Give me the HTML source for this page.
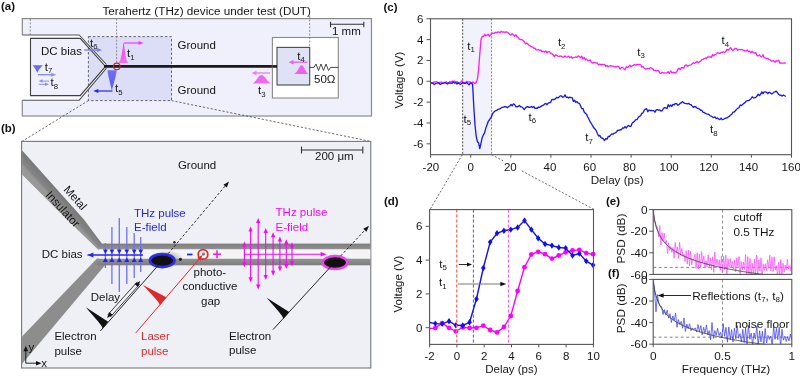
<!DOCTYPE html>
<html><head><meta charset="utf-8"><style>
html,body{margin:0;padding:0;background:#fff;width:800px;height:377px;overflow:hidden}
svg{display:block;font-family:"Liberation Sans", sans-serif;will-change:transform}
</style></head><body>
<svg width="800" height="377" viewBox="0 0 800 377">
<text x="1" y="10.3" font-size="11.5" fill="#111" text-anchor="start" font-weight="bold" >(a)</text>
<text x="102.4" y="14.6" font-size="11.7" fill="#151515" text-anchor="start" font-weight="normal" >Terahertz (THz) device under test (DUT)</text>
<rect x="22.3" y="18.6" width="349.2" height="97.4" fill="#eff0fc" stroke="#8a8a8a" stroke-width="1.2"/>
<polygon points="21.00,35.00 79.20,35.00 106.50,64.60 106.50,68.20 79.20,100.20 21.00,100.20" stroke="none" fill="#ffffff" stroke-width="1" />
<rect x="88.4" y="36.6" width="83.1" height="64" fill="#dcdef7" stroke="#666" stroke-width="1" stroke-dasharray="2.5,2"/>
<polygon points="30.50,38.40 80.20,38.40 105.50,66.40 80.20,95.60 30.50,95.60" stroke="none" fill="#eff0fc" stroke-width="1" />
<polygon points="88.40,47.40 105.50,66.40 88.40,85.60" stroke="none" fill="#dcdef7" stroke-width="1" />
<line x1="88.40" y1="47.50" x2="88.40" y2="85.50" stroke="#666" stroke-width="1" stroke-dasharray="2.5,2"/>
<polygon points="79.20,35.00 106.50,64.60 105.50,66.40 80.20,38.40" stroke="none" fill="#ffffff" stroke-width="1" />
<polygon points="79.20,100.20 106.50,68.20 105.50,66.40 80.20,95.60" stroke="none" fill="#ffffff" stroke-width="1" />
<polyline points="22.30,35.00 79.20,35.00 106.50,64.60" stroke="#555" fill="none" stroke-width="1.1" />
<polyline points="22.30,100.20 79.20,100.20 106.50,68.20" stroke="#555" fill="none" stroke-width="1.1" />
<polygon points="30.50,38.40 80.20,38.40 105.50,66.40 80.20,95.60 30.50,95.60" stroke="#3f3f3f" fill="none" stroke-width="1.1" />
<line x1="104.00" y1="66.40" x2="277.00" y2="66.40" stroke="#1a1a1a" stroke-width="2.6" />
<rect x="272.4" y="37.5" width="65.9" height="60.5" fill="#ffffff" stroke="#8a8a8a" stroke-width="1.1"/>
<rect x="277" y="47.4" width="32.7" height="37.6" fill="#dfe1f5" stroke="#4a4a4a" stroke-width="1.1"/>
<line x1="272.40" y1="66.40" x2="277.00" y2="66.40" stroke="#1a1a1a" stroke-width="2.6" />
<polyline points="309.70,67.40 314.00,67.40 316.00,64.00 318.50,70.50 321.00,64.00 323.50,70.50 326.00,64.00 328.50,70.50 330.50,67.40 338.30,67.40" stroke="#333" fill="none" stroke-width="0.9" />
<text x="314" y="82.7" font-size="11.5" fill="#151515" text-anchor="start" font-weight="normal" >50Ω</text>
<line x1="330.50" y1="24.30" x2="363.80" y2="24.30" stroke="#333" stroke-width="1.1" />
<line x1="330.50" y1="21.80" x2="330.50" y2="27.30" stroke="#333" stroke-width="1.1" />
<line x1="363.80" y1="21.80" x2="363.80" y2="27.30" stroke="#333" stroke-width="1.1" />
<text x="332" y="34.7" font-size="11.5" fill="#151515" text-anchor="start" font-weight="normal" >1 mm</text>
<line x1="30.30" y1="19.00" x2="30.30" y2="35.00" stroke="#777" stroke-width="0.8" stroke-dasharray="2,1.5"/>
<line x1="116.60" y1="18.60" x2="116.60" y2="63.00" stroke="#777" stroke-width="0.8" stroke-dasharray="2,1.5"/>
<line x1="309.70" y1="16.00" x2="309.70" y2="47.40" stroke="#777" stroke-width="0.8" stroke-dasharray="2,1.5"/>
<text x="177.5" y="49.1" font-size="11.5" fill="#151515" text-anchor="start" font-weight="normal" >Ground</text>
<text x="177.5" y="93.5" font-size="11.5" fill="#151515" text-anchor="start" font-weight="normal" >Ground</text>
<text x="41" y="55" font-size="11.5" fill="#151515" text-anchor="start" font-weight="normal" >DC bias</text>
<circle cx="116.8" cy="66.4" r="3.2" fill="none" stroke="#d42020" stroke-width="1.2"/>
<defs><linearGradient id="gm" x1="0" y1="0" x2="0" y2="1"><stop offset="0" stop-color="#f040f0"/><stop offset="1" stop-color="#f070f0"/></linearGradient><linearGradient id="gb" x1="0" y1="0" x2="0" y2="1"><stop offset="0" stop-color="#7070f4"/><stop offset="1" stop-color="#5a5af0"/></linearGradient></defs>
<path d="M118.3,63 C121,61.5 122.5,50 123.4,43 L123.9,43 C124.8,50 125.6,61.5 128.4,63 Z" fill="url(#gm)"/>
<line x1="124.00" y1="43.00" x2="139.50" y2="43.00" stroke="#ff33ff" stroke-width="1.2" />
<polygon points="143.50,43.00 138.50,45.00 138.50,41.00" stroke="none" fill="#ff33ff" stroke-width="1" />
<text x="127" y="57" font-size="11.5" fill="#151515" text-anchor="start">t<tspan font-size="7.82" dy="2.6">1</tspan></text>
<path d="M107.4,70.2 L116.7,70.2 C116,77 113,85 112.1,90 L111.7,90 C110.8,85 108.2,77 107.4,70.2 Z" fill="url(#gb)"/>
<line x1="112.50" y1="91.00" x2="97.30" y2="91.00" stroke="#2222ee" stroke-width="1.2" />
<polygon points="93.30,91.00 98.30,89.00 98.30,93.00" stroke="none" fill="#2222ee" stroke-width="1" />
<text x="115" y="92" font-size="11.5" fill="#151515" text-anchor="start">t<tspan font-size="7.82" dy="2.6">5</tspan></text>
<line x1="84.00" y1="50.00" x2="98.00" y2="50.00" stroke="#7b7bf7" stroke-width="1.3" />
<polygon points="102.00,50.00 97.00,52.00 97.00,48.00" stroke="none" fill="#7b7bf7" stroke-width="1" />
<text x="90" y="46.5" font-size="11.5" fill="#151515" text-anchor="start">t<tspan font-size="7.82" dy="2.6">6</tspan></text>
<path d="M32.7,65.2 L42.7,65.2 C40.5,67.5 38.5,70 37.3,72.7 C36,70 34.5,67.5 32.7,65.2 Z" fill="#6a6af5"/>
<line x1="37.90" y1="74.70" x2="52.20" y2="74.70" stroke="#8c8cf7" stroke-width="1.4" />
<polygon points="56.20,74.70 51.20,76.70 51.20,72.70" stroke="none" fill="#8c8cf7" stroke-width="1" />
<text x="44.7" y="70.7" font-size="11.5" fill="#151515" text-anchor="start">t<tspan font-size="7.82" dy="2.6">7</tspan></text>
<line x1="49.00" y1="81.10" x2="41.90" y2="81.10" stroke="#8c8cf7" stroke-width="1.0" />
<polygon points="38.70,81.10 42.70,79.35 42.70,82.85" stroke="none" fill="#8c8cf7" stroke-width="1" />
<line x1="38.70" y1="84.30" x2="45.80" y2="84.30" stroke="#8c8cf7" stroke-width="1.0" />
<polygon points="49.00,84.30 45.00,86.05 45.00,82.55" stroke="none" fill="#8c8cf7" stroke-width="1" />
<text x="50.6" y="86.3" font-size="11.5" fill="#151515" text-anchor="start">t<tspan font-size="7.82" dy="2.6">8</tspan></text>
<line x1="307.60" y1="62.20" x2="292.50" y2="62.20" stroke="#f060f0" stroke-width="1.3" />
<polygon points="288.50,62.20 293.50,59.95 293.50,64.45" stroke="none" fill="#f060f0" stroke-width="1" />
<path d="M294,73.9 C297.5,73.3 299.3,65.3 301.6,65.3 C304,65.3 305.5,73.3 308.6,73.9 Z" fill="#f060f0"/>
<text x="297.3" y="59.8" font-size="11.5" fill="#151515" text-anchor="start">t<tspan font-size="7.82" dy="2.6">4</tspan></text>
<line x1="270.00" y1="73.00" x2="255.50" y2="73.00" stroke="#f078f0" stroke-width="1.3" />
<polygon points="251.50,73.00 256.50,70.75 256.50,75.25" stroke="none" fill="#f078f0" stroke-width="1" />
<path d="M252,83.5 C256,83 258,75 261.5,75 C265,75 267.5,83 271.5,83.5 Z" fill="#f068f0"/>
<text x="258" y="94" font-size="11.5" fill="#151515" text-anchor="start">t<tspan font-size="7.82" dy="2.6">3</tspan></text>
<line x1="88.40" y1="100.60" x2="22.00" y2="141.40" stroke="#444" stroke-width="0.8" stroke-dasharray="2.2,1.8"/>
<line x1="171.50" y1="100.60" x2="370.80" y2="141.40" stroke="#444" stroke-width="0.8" stroke-dasharray="2.2,1.8"/>
<text x="1" y="132" font-size="11.5" fill="#111" text-anchor="start" font-weight="bold" >(b)</text>
<rect x="21.6" y="141.4" width="349.2" height="226.6" fill="#eef0f6" stroke="#777" stroke-width="1.1"/>
<clipPath id="cb"><rect x="22.1" y="141.9" width="348.2" height="225.6"/></clipPath>
<g clip-path="url(#cb)">
<defs><linearGradient id="sg1" gradientUnits="userSpaceOnUse" x1="40" y1="150" x2="28" y2="163"><stop offset="0" stop-color="#7a7a7a"/><stop offset="1" stop-color="#9a9a9a"/></linearGradient><linearGradient id="sg2" gradientUnits="userSpaceOnUse" x1="0" y1="243.6" x2="0" y2="249.5"><stop offset="0" stop-color="#7c7c7c"/><stop offset="1" stop-color="#959595"/></linearGradient><linearGradient id="sg3" gradientUnits="userSpaceOnUse" x1="0" y1="258.5" x2="0" y2="265.3"><stop offset="0" stop-color="#959595"/><stop offset="1" stop-color="#7c7c7c"/></linearGradient></defs>
<defs><linearGradient id="sgd" gradientUnits="userSpaceOnUse" x1="50" y1="181.6" x2="38" y2="192.6"><stop offset="0" stop-color="#787878"/><stop offset="0.45" stop-color="#848484"/><stop offset="0.6" stop-color="#979797"/><stop offset="1" stop-color="#9a9a9a"/></linearGradient></defs>
<polygon points="21.60,149.80 83.70,219.30 101.80,243.60 98.00,249.50 66.70,219.30 21.60,174.00" stroke="none" fill="url(#sgd)" stroke-width="1" />
<rect x="98" y="243.6" width="273" height="5.9" fill="url(#sg2)"/>
<polygon points="97.00,258.50 105.00,265.30 21.60,364.50 21.60,337.00" stroke="none" fill="#8d8d8d" stroke-width="1" />
<rect x="97" y="258.5" width="274" height="6.8" fill="url(#sg3)"/>
<rect x="99" y="249.5" width="272" height="9" fill="#f5f5f8"/>
</g>
<text x="177.9" y="169" font-size="11.5" fill="#151515" text-anchor="start" font-weight="normal" >Ground</text>
<text x="315" y="160.3" font-size="11.5" fill="#151515" text-anchor="start" font-weight="normal" >200 μm</text>
<line x1="301.50" y1="150.00" x2="362.80" y2="150.00" stroke="#333" stroke-width="1.1" />
<line x1="301.50" y1="146.50" x2="301.50" y2="153.50" stroke="#333" stroke-width="1.1" />
<line x1="362.80" y1="146.50" x2="362.80" y2="153.50" stroke="#333" stroke-width="1.1" />
<text font-size="11.5" fill="#151515" transform="translate(63,190) rotate(48)">Metal</text>
<text font-size="11.5" fill="#151515" transform="translate(45,195.5) rotate(47.5)">Insulator</text>
<text x="41.7" y="258" font-size="11.5" fill="#151515" text-anchor="start" font-weight="normal" >DC bias</text>
<text x="134" y="216.5" font-size="11.5" fill="#2424f5" text-anchor="start" font-weight="normal" >THz pulse</text>
<text x="134" y="230.7" font-size="11.5" fill="#2424f5" text-anchor="start" font-weight="normal" >E-field</text>
<line x1="105.40" y1="243.00" x2="105.40" y2="268.00" stroke="#6f6ff7" stroke-width="1.3" />
<polygon points="102.90,249.50 107.90,249.50 105.40,254.00" stroke="none" fill="#2424f5" stroke-width="1" />
<polygon points="102.90,262.00 107.90,262.00 105.40,257.50" stroke="none" fill="#2424f5" stroke-width="1" />
<line x1="111.90" y1="227.00" x2="111.90" y2="284.00" stroke="#6f6ff7" stroke-width="1.3" />
<polygon points="109.40,249.50 114.40,249.50 111.90,254.00" stroke="none" fill="#2424f5" stroke-width="1" />
<polygon points="109.40,262.00 114.40,262.00 111.90,257.50" stroke="none" fill="#2424f5" stroke-width="1" />
<line x1="119.30" y1="218.00" x2="119.30" y2="292.00" stroke="#6f6ff7" stroke-width="1.3" />
<polygon points="116.80,249.50 121.80,249.50 119.30,254.00" stroke="none" fill="#2424f5" stroke-width="1" />
<polygon points="116.80,262.00 121.80,262.00 119.30,257.50" stroke="none" fill="#2424f5" stroke-width="1" />
<line x1="126.80" y1="227.00" x2="126.80" y2="284.00" stroke="#6f6ff7" stroke-width="1.3" />
<polygon points="124.30,249.50 129.30,249.50 126.80,254.00" stroke="none" fill="#2424f5" stroke-width="1" />
<polygon points="124.30,262.00 129.30,262.00 126.80,257.50" stroke="none" fill="#2424f5" stroke-width="1" />
<line x1="134.20" y1="233.00" x2="134.20" y2="278.00" stroke="#6f6ff7" stroke-width="1.3" />
<polygon points="131.70,249.50 136.70,249.50 134.20,254.00" stroke="none" fill="#2424f5" stroke-width="1" />
<polygon points="131.70,262.00 136.70,262.00 134.20,257.50" stroke="none" fill="#2424f5" stroke-width="1" />
<line x1="140.70" y1="237.00" x2="140.70" y2="272.00" stroke="#6f6ff7" stroke-width="1.3" />
<polygon points="138.20,249.50 143.20,249.50 140.70,254.00" stroke="none" fill="#2424f5" stroke-width="1" />
<polygon points="138.20,262.00 143.20,262.00 140.70,257.50" stroke="none" fill="#2424f5" stroke-width="1" />
<line x1="143.00" y1="255.00" x2="92.20" y2="255.00" stroke="#2424f5" stroke-width="1.2" />
<polygon points="87.40,255.00 93.40,252.50 93.40,257.50" stroke="none" fill="#2424f5" stroke-width="1" />
<line x1="87.40" y1="255.00" x2="143.00" y2="255.00" stroke="#2424f5" stroke-width="1.2" />
<defs><radialGradient id="halo"><stop offset="0" stop-color="#555" stop-opacity="0.8"/><stop offset="1" stop-color="#888" stop-opacity="0"/></radialGradient></defs>
<ellipse cx="166" cy="259" rx="18" ry="9" fill="url(#halo)"/>
<ellipse cx="337" cy="262" rx="16" ry="8" fill="url(#halo)"/>
<ellipse cx="162.2" cy="260.6" rx="11.5" ry="5.8" fill="#111"/>
<ellipse cx="162.2" cy="260.6" rx="12.3" ry="6.5" fill="none" stroke="#2d2df0" stroke-width="2.6"/>
<ellipse cx="335" cy="262.6" rx="11.5" ry="5.8" fill="#111"/>
<ellipse cx="335" cy="262.6" rx="12.3" ry="6.5" fill="none" stroke="#f040f0" stroke-width="2.5"/>
<circle cx="180.4" cy="259.3" r="1.6" fill="#222"/>
<circle cx="174.4" cy="242.3" r="1.3" fill="#333"/>
<line x1="100.40" y1="331.00" x2="162.50" y2="260.50" stroke="#111" stroke-width="0.9" />
<line x1="162.50" y1="260.50" x2="226.00" y2="185.00" stroke="#111" stroke-width="0.9" stroke-dasharray="2.5,2"/>
<polygon points="229.00,181.50 226.86,187.54 223.41,184.64" stroke="none" fill="#111" stroke-width="1" />
<line x1="273.00" y1="329.60" x2="334.50" y2="262.50" stroke="#111" stroke-width="0.9" />
<line x1="334.50" y1="262.50" x2="366.00" y2="229.00" stroke="#111" stroke-width="0.9" stroke-dasharray="2.5,2"/>
<polygon points="369.00,225.80 366.53,231.71 363.25,228.63" stroke="none" fill="#111" stroke-width="1" />
<path d="M85.8,307.2 L108.2,321.8 L102.8,328.4 C101.5,324.5 97.5,321 85.8,307.2 Z" fill="#111"/>
<path d="M266.7,297.7 L289.2,312 L283.6,318.8 C282.3,315 278.5,311.5 266.7,297.7 Z" fill="#111"/>
<line x1="107.80" y1="314.80" x2="137.30" y2="281.80" stroke="#111" stroke-width="0.8" />
<line x1="110.20" y1="317.20" x2="139.70" y2="284.20" stroke="#111" stroke-width="0.8" />
<polygon points="140.30,281.00 137.96,286.96 134.61,283.95" stroke="none" fill="#111" stroke-width="1" />
<polygon points="107.00,318.00 109.34,312.04 112.69,315.05" stroke="none" fill="#111" stroke-width="1" />
<text x="90.7" y="301" font-size="11.5" fill="#151515" text-anchor="start" font-weight="normal" >Delay</text>
<text x="54.4" y="339.8" font-size="11.5" fill="#151515" text-anchor="start" font-weight="normal" >Electron</text>
<text x="54.4" y="354.5" font-size="11.5" fill="#151515" text-anchor="start" font-weight="normal" >pulse</text>
<text x="229" y="339.7" font-size="11.5" fill="#151515" text-anchor="start" font-weight="normal" >Electron</text>
<text x="229" y="353.5" font-size="11.5" fill="#151515" text-anchor="start" font-weight="normal" >pulse</text>
<line x1="135.70" y1="333.00" x2="199.50" y2="258.50" stroke="#dd2a2a" stroke-width="1.0" />
<polygon points="202.50,255.00 200.63,260.64 197.21,257.71" stroke="none" fill="#dd2a2a" stroke-width="1" />
<path d="M143,285.1 L166.3,297.3 L160,305.2 C158.7,301.5 155,298.5 143,285.1 Z" fill="#dd2a2a"/>
<text x="141" y="339.6" font-size="11.5" fill="#dd2a2a" text-anchor="start" font-weight="normal" >Laser</text>
<text x="141" y="354.5" font-size="11.5" fill="#dd2a2a" text-anchor="start" font-weight="normal" >pulse</text>
<circle cx="203" cy="254.4" r="4.8" fill="none" stroke="#e03030" stroke-width="1.8"/>
<circle cx="203.5" cy="254" r="1.6" fill="#777"/>
<line x1="187.00" y1="254.50" x2="192.50" y2="254.50" stroke="#2424f5" stroke-width="1.8" />
<line x1="213.00" y1="254.20" x2="221.00" y2="254.20" stroke="#f020f0" stroke-width="1.6" />
<line x1="217.00" y1="250.20" x2="217.00" y2="258.20" stroke="#f020f0" stroke-width="1.6" />
<text x="193.5" y="276" font-size="11.5" fill="#151515" text-anchor="start" font-weight="normal" >photo-</text>
<text x="182.4" y="289.5" font-size="11.5" fill="#151515" text-anchor="start" font-weight="normal" >conductive</text>
<text x="201" y="304.6" font-size="11.5" fill="#151515" text-anchor="start" font-weight="normal" >gap</text>
<text x="275.6" y="216.2" font-size="11.5" fill="#ff00ff" text-anchor="start" font-weight="normal" >THz pulse</text>
<text x="275.6" y="231.2" font-size="11.5" fill="#ff00ff" text-anchor="start" font-weight="normal" >E-field</text>
<line x1="244.40" y1="245.40" x2="244.40" y2="263.30" stroke="#ff00ff" stroke-width="1.1" />
<polygon points="244.40,241.40 246.50,246.40 242.30,246.40" stroke="none" fill="#ff00ff" stroke-width="1" />
<polygon points="244.40,267.30 242.30,262.30 246.50,262.30" stroke="none" fill="#ff00ff" stroke-width="1" />
<line x1="250.60" y1="230.60" x2="250.60" y2="278.20" stroke="#ff00ff" stroke-width="1.1" />
<polygon points="250.60,226.60 252.70,231.60 248.50,231.60" stroke="none" fill="#ff00ff" stroke-width="1" />
<polygon points="250.60,282.20 248.50,277.20 252.70,277.20" stroke="none" fill="#ff00ff" stroke-width="1" />
<line x1="258.20" y1="222.00" x2="258.20" y2="285.60" stroke="#ff00ff" stroke-width="1.1" />
<polygon points="258.20,218.00 260.30,223.00 256.10,223.00" stroke="none" fill="#ff00ff" stroke-width="1" />
<polygon points="258.20,289.60 256.10,284.60 260.30,284.60" stroke="none" fill="#ff00ff" stroke-width="1" />
<line x1="265.70" y1="232.00" x2="265.70" y2="276.00" stroke="#ff00ff" stroke-width="1.1" />
<polygon points="265.70,228.00 267.80,233.00 263.60,233.00" stroke="none" fill="#ff00ff" stroke-width="1" />
<polygon points="265.70,280.00 263.60,275.00 267.80,275.00" stroke="none" fill="#ff00ff" stroke-width="1" />
<line x1="273.10" y1="236.30" x2="273.10" y2="271.80" stroke="#ff00ff" stroke-width="1.1" />
<polygon points="273.10,232.30 275.20,237.30 271.00,237.30" stroke="none" fill="#ff00ff" stroke-width="1" />
<polygon points="273.10,275.80 271.00,270.80 275.20,270.80" stroke="none" fill="#ff00ff" stroke-width="1" />
<line x1="279.90" y1="240.50" x2="279.90" y2="267.60" stroke="#ff00ff" stroke-width="1.1" />
<polygon points="279.90,236.50 282.00,241.50 277.80,241.50" stroke="none" fill="#ff00ff" stroke-width="1" />
<polygon points="279.90,271.60 277.80,266.60 282.00,266.60" stroke="none" fill="#ff00ff" stroke-width="1" />
<line x1="286.30" y1="243.30" x2="286.30" y2="265.00" stroke="#ff00ff" stroke-width="1.1" />
<polygon points="286.30,239.30 288.40,244.30 284.20,244.30" stroke="none" fill="#ff00ff" stroke-width="1" />
<polygon points="286.30,269.00 284.20,264.00 288.40,264.00" stroke="none" fill="#ff00ff" stroke-width="1" />
<line x1="292.00" y1="246.30" x2="292.00" y2="262.30" stroke="#ff00ff" stroke-width="1.1" />
<polygon points="292.00,242.30 294.10,247.30 289.90,247.30" stroke="none" fill="#ff00ff" stroke-width="1" />
<polygon points="292.00,266.30 289.90,261.30 294.10,261.30" stroke="none" fill="#ff00ff" stroke-width="1" />
<line x1="244.00" y1="254.20" x2="321.80" y2="254.20" stroke="#ff00ff" stroke-width="1.1" />
<polygon points="326.60,254.20 320.60,256.45 320.60,251.95" stroke="none" fill="#ff00ff" stroke-width="1" />
<line x1="25.80" y1="363.20" x2="25.80" y2="350.00" stroke="#111" stroke-width="0.9" />
<polygon points="25.80,345.80 28.05,351.30 23.55,351.30" stroke="none" fill="#111" stroke-width="1" />
<line x1="25.80" y1="363.20" x2="37.00" y2="363.20" stroke="#111" stroke-width="0.9" />
<polygon points="41.50,363.20 36.00,365.45 36.00,360.95" stroke="none" fill="#111" stroke-width="1" />
<text x="28.5" y="350.8" font-size="11.5" fill="#151515" text-anchor="start" font-weight="normal" >y</text>
<text x="41.3" y="366.8" font-size="11.5" fill="#151515" text-anchor="start" font-weight="normal" >x</text>
<text x="383.5" y="11.3" font-size="11.5" fill="#111" text-anchor="start" font-weight="bold" >(c)</text>
<rect x="462.68" y="18.8" width="28.87" height="135.89999999999998" fill="#f1f2fc"/>
<line x1="462.68" y1="18.80" x2="462.68" y2="154.70" stroke="#222" stroke-width="0.8" stroke-dasharray="2,1.5"/>
<line x1="491.55" y1="18.80" x2="491.55" y2="154.70" stroke="#666" stroke-width="0.8" stroke-dasharray="2,1.5"/>
<polyline points="430.60,82.50 431.80,82.74 433.00,82.29 434.20,81.80 435.40,82.15 436.60,81.72 437.80,82.57 439.00,83.59 440.20,82.13 441.40,82.03 442.60,82.92 443.80,82.82 445.00,82.62 446.20,81.80 447.40,82.52 448.60,83.10 449.80,81.47 451.00,82.19 452.20,81.03 453.40,81.53 454.60,81.09 455.80,82.38 457.00,81.55 458.20,82.79 459.40,82.70 460.60,82.43 461.80,80.57 463.00,82.15 464.20,82.55 465.40,82.68 466.60,81.37 467.80,82.21 469.00,81.81 470.20,81.96 471.40,83.49 472.60,82.03 473.80,82.69 475.00,83.45 476.20,82.32 477.40,79.31 478.60,69.63 479.80,54.05 481.00,39.42 482.20,36.41 483.40,36.71 484.60,34.16 485.80,35.89 487.00,35.10 488.20,34.29 489.40,36.20 490.60,34.87 491.80,32.82 493.00,33.36 494.20,33.28 495.40,32.27 496.60,32.73 497.80,31.89 499.00,32.23 500.20,32.69 501.40,31.22 502.60,32.15 503.80,31.84 505.00,32.54 506.20,31.71 507.40,32.42 508.60,33.10 509.80,34.49 511.00,35.20 512.20,33.74 513.40,34.68 514.60,36.35 515.80,34.81 517.00,36.63 518.20,37.52 519.40,39.21 520.60,39.50 521.80,39.57 523.00,40.43 524.20,41.41 525.40,43.72 526.60,43.04 527.80,44.03 529.00,45.44 530.20,45.95 531.40,46.78 532.60,46.93 533.80,48.22 535.00,48.24 536.20,49.88 537.40,49.83 538.60,49.65 539.80,50.56 541.00,50.13 542.20,51.66 543.40,51.23 544.60,52.12 545.80,51.03 547.00,52.76 548.20,51.54 549.40,51.68 550.60,53.48 551.80,53.42 553.00,54.69 554.20,56.77 555.40,54.72 556.60,55.30 557.80,56.10 559.00,56.46 560.20,56.06 561.40,56.17 562.60,57.03 563.80,57.02 565.00,55.91 566.20,56.80 567.40,57.03 568.60,56.29 569.80,57.47 571.00,56.71 572.20,58.18 573.40,57.55 574.60,57.47 575.80,56.93 577.00,57.31 578.20,55.80 579.40,56.49 580.60,57.73 581.80,56.19 583.00,59.02 584.20,57.40 585.40,59.85 586.60,59.02 587.80,60.78 589.00,60.71 590.20,59.83 591.40,62.51 592.60,63.11 593.80,62.36 595.00,62.65 596.20,63.19 597.40,62.99 598.60,65.10 599.80,64.20 601.00,64.77 602.20,64.36 603.40,64.67 604.60,64.33 605.80,66.54 607.00,65.59 608.20,66.67 609.40,66.09 610.60,65.70 611.80,66.18 613.00,66.17 614.20,66.81 615.40,66.68 616.60,66.95 617.80,66.28 619.00,66.94 620.20,69.11 621.40,67.46 622.60,67.35 623.80,68.67 625.00,69.73 626.20,66.96 627.40,67.47 628.60,66.65 629.80,65.27 631.00,66.79 632.20,65.70 633.40,65.38 634.60,64.49 635.80,65.23 637.00,64.21 638.20,64.82 639.40,64.45 640.60,64.76 641.80,67.20 643.00,66.59 644.20,68.19 645.40,68.89 646.60,68.84 647.80,68.38 649.00,68.88 650.20,67.73 651.40,68.02 652.60,68.75 653.80,70.26 655.00,70.45 656.20,70.80 657.40,70.63 658.60,70.56 659.80,73.01 661.00,73.24 662.20,72.29 663.40,72.78 664.60,72.91 665.80,72.90 667.00,72.91 668.20,71.75 669.40,73.27 670.60,71.00 671.80,72.63 673.00,72.27 674.20,72.52 675.40,72.90 676.60,71.97 677.80,69.26 679.00,68.22 680.20,69.62 681.40,67.54 682.60,67.76 683.80,68.02 685.00,65.61 686.20,64.82 687.40,66.29 688.60,65.70 689.80,65.05 691.00,64.86 692.20,63.72 693.40,62.77 694.60,63.43 695.80,62.37 697.00,61.41 698.20,62.71 699.40,61.70 700.60,61.47 701.80,59.74 703.00,59.40 704.20,58.53 705.40,58.01 706.60,58.27 707.80,56.88 709.00,57.19 710.20,56.66 711.40,57.58 712.60,54.41 713.80,55.81 715.00,54.60 716.20,54.23 717.40,52.65 718.60,53.02 719.80,53.55 721.00,52.48 722.20,52.32 723.40,51.72 724.60,52.58 725.80,51.34 727.00,49.30 728.20,50.21 729.40,48.89 730.60,47.57 731.80,49.45 733.00,50.64 734.20,49.31 735.40,48.31 736.60,48.55 737.80,50.27 739.00,49.55 740.20,49.53 741.40,49.51 742.60,49.69 743.80,50.63 745.00,50.75 746.20,50.81 747.40,50.13 748.60,51.71 749.80,51.08 751.00,52.83 752.20,51.26 753.40,52.56 754.60,53.18 755.80,52.64 757.00,55.60 758.20,55.90 759.40,54.88 760.60,56.39 761.80,56.59 763.00,54.75 764.20,57.64 765.40,57.98 766.60,58.68 767.80,58.35 769.00,59.58 770.20,59.89 771.40,61.22 772.60,60.78 773.80,60.74 775.00,62.21 776.20,60.78 777.40,61.15 778.60,60.24 779.80,63.19 781.00,62.94 782.20,63.14 783.40,63.18 784.60,62.97 785.80,63.29" stroke="#ff1aff" fill="none" stroke-width="1.3" stroke-linejoin="round"/>
<polyline points="430.60,83.10 431.80,83.14 433.00,83.34 434.20,84.51 435.40,83.74 436.60,83.25 437.80,82.84 439.00,82.79 440.20,84.58 441.40,83.71 442.60,83.35 443.80,83.02 445.00,82.41 446.20,83.25 447.40,84.00 448.60,82.99 449.80,83.12 451.00,83.12 452.20,83.39 453.40,82.03 454.60,83.11 455.80,82.62 457.00,84.01 458.20,82.68 459.40,83.76 460.60,84.52 461.80,83.05 463.00,82.82 464.20,83.45 465.40,83.30 466.60,82.51 467.80,83.67 469.00,84.91 470.20,83.09 471.40,83.14 472.60,84.16 473.80,106.68 475.00,125.00 476.20,136.08 477.40,141.72 478.60,142.84 479.80,148.67 481.00,143.22 482.20,137.69 483.40,134.84 484.60,132.88 485.80,128.12 487.00,124.93 488.20,121.45 489.40,119.77 490.60,118.12 491.80,115.89 493.00,113.05 494.20,111.80 495.40,110.76 496.60,110.45 497.80,109.47 499.00,109.23 500.20,108.72 501.40,107.67 502.60,107.30 503.80,106.95 505.00,106.55 506.20,106.85 507.40,107.78 508.60,106.59 509.80,105.99 511.00,104.43 512.20,105.92 513.40,103.88 514.60,104.49 515.80,106.59 517.00,106.76 518.20,106.37 519.40,105.41 520.60,106.78 521.80,106.82 523.00,108.16 524.20,109.57 525.40,107.86 526.60,106.99 527.80,106.60 529.00,107.42 530.20,107.26 531.40,106.48 532.60,107.49 533.80,106.48 535.00,108.29 536.20,108.25 537.40,108.27 538.60,107.02 539.80,107.34 541.00,106.35 542.20,105.67 543.40,105.23 544.60,103.99 545.80,103.40 547.00,104.71 548.20,103.18 549.40,102.71 550.60,102.55 551.80,99.56 553.00,99.52 554.20,99.50 555.40,98.87 556.60,97.46 557.80,97.90 559.00,97.12 560.20,95.86 561.40,95.96 562.60,97.22 563.80,96.82 565.00,94.81 566.20,97.28 567.40,97.07 568.60,98.06 569.80,97.07 571.00,97.53 572.20,97.60 573.40,101.44 574.60,100.17 575.80,102.49 577.00,101.60 578.20,103.16 579.40,103.28 580.60,105.96 581.80,108.71 583.00,108.57 584.20,112.08 585.40,113.24 586.60,114.38 587.80,117.06 589.00,119.34 590.20,121.91 591.40,123.76 592.60,125.59 593.80,127.82 595.00,129.05 596.20,130.65 597.40,133.45 598.60,136.00 599.80,135.35 601.00,137.59 602.20,138.08 603.40,138.83 604.60,140.51 605.80,138.50 607.00,139.21 608.20,136.49 609.40,136.51 610.60,135.12 611.80,133.94 613.00,134.32 614.20,133.03 615.40,132.94 616.60,131.73 617.80,130.21 619.00,130.30 620.20,129.73 621.40,129.77 622.60,127.91 623.80,128.24 625.00,126.53 626.20,128.07 627.40,126.32 628.60,125.38 629.80,126.41 631.00,126.28 632.20,122.98 633.40,122.13 634.60,121.21 635.80,119.70 637.00,119.70 638.20,117.55 639.40,116.25 640.60,115.83 641.80,113.30 643.00,112.78 644.20,110.20 645.40,109.06 646.60,108.64 647.80,111.68 649.00,110.01 650.20,110.54 651.40,110.40 652.60,110.63 653.80,110.63 655.00,112.19 656.20,109.92 657.40,109.58 658.60,110.10 659.80,109.92 661.00,111.10 662.20,110.56 663.40,108.53 664.60,107.59 665.80,107.82 667.00,108.61 668.20,104.64 669.40,106.72 670.60,105.00 671.80,106.42 673.00,104.45 674.20,104.80 675.40,103.55 676.60,103.70 677.80,105.31 679.00,104.58 680.20,103.32 681.40,102.67 682.60,101.58 683.80,102.86 685.00,103.42 686.20,103.64 687.40,103.90 688.60,103.35 689.80,104.46 691.00,104.75 692.20,106.16 693.40,107.37 694.60,106.52 695.80,106.76 697.00,108.07 698.20,108.39 699.40,109.03 700.60,110.31 701.80,110.25 703.00,112.28 704.20,112.44 705.40,113.44 706.60,113.81 707.80,114.10 709.00,114.64 710.20,115.89 711.40,116.12 712.60,117.23 713.80,117.52 715.00,116.91 716.20,118.53 717.40,117.89 718.60,118.95 719.80,119.68 721.00,118.09 722.20,119.52 723.40,119.27 724.60,118.72 725.80,118.21 727.00,117.95 728.20,117.02 729.40,116.38 730.60,114.96 731.80,114.27 733.00,112.04 734.20,111.99 735.40,110.71 736.60,109.36 737.80,108.07 739.00,107.82 740.20,104.99 741.40,105.64 742.60,104.42 743.80,103.40 745.00,102.68 746.20,101.10 747.40,100.67 748.60,100.63 749.80,99.72 751.00,98.79 752.20,96.71 753.40,97.85 754.60,97.85 755.80,97.22 757.00,96.10 758.20,94.17 759.40,95.67 760.60,94.30 761.80,91.89 763.00,93.72 764.20,91.79 765.40,91.85 766.60,92.28 767.80,93.70 769.00,92.29 770.20,92.70 771.40,93.78 772.60,93.56 773.80,92.10 775.00,91.89 776.20,91.14 777.40,92.49 778.60,94.29 779.80,95.17 781.00,95.25 782.20,96.16 783.40,94.95 784.60,95.72 785.80,96.55" stroke="#1515ee" fill="none" stroke-width="1.3" stroke-linejoin="round"/>
<line x1="462.30" y1="154.70" x2="430.10" y2="209.40" stroke="#444" stroke-width="0.8" stroke-dasharray="2,1.8"/>
<line x1="491.60" y1="154.70" x2="593.90" y2="209.40" stroke="#444" stroke-width="0.8" stroke-dasharray="2,1.8"/>
<rect x="430.5" y="18.8" width="361.0" height="135.89999999999998" fill="none" stroke="#555" stroke-width="1.1"/>
<line x1="426.50" y1="143.82" x2="430.50" y2="143.82" stroke="#555" stroke-width="1" />
<text x="423.5" y="147.72" font-size="11.5" fill="#151515" text-anchor="end" font-weight="normal" >-6</text>
<line x1="426.50" y1="122.98" x2="430.50" y2="122.98" stroke="#555" stroke-width="1" />
<text x="423.5" y="126.88" font-size="11.5" fill="#151515" text-anchor="end" font-weight="normal" >-4</text>
<line x1="426.50" y1="102.14" x2="430.50" y2="102.14" stroke="#555" stroke-width="1" />
<text x="423.5" y="106.04" font-size="11.5" fill="#151515" text-anchor="end" font-weight="normal" >-2</text>
<line x1="426.50" y1="81.30" x2="430.50" y2="81.30" stroke="#555" stroke-width="1" />
<text x="423.5" y="85.2" font-size="11.5" fill="#151515" text-anchor="end" font-weight="normal" >0</text>
<line x1="426.50" y1="60.46" x2="430.50" y2="60.46" stroke="#555" stroke-width="1" />
<text x="423.5" y="64.36" font-size="11.5" fill="#151515" text-anchor="end" font-weight="normal" >2</text>
<line x1="426.50" y1="39.62" x2="430.50" y2="39.62" stroke="#555" stroke-width="1" />
<text x="423.5" y="43.519999999999996" font-size="11.5" fill="#151515" text-anchor="end" font-weight="normal" >4</text>
<line x1="426.50" y1="18.78" x2="430.50" y2="18.78" stroke="#555" stroke-width="1" />
<text x="423.5" y="22.68" font-size="11.5" fill="#151515" text-anchor="end" font-weight="normal" >6</text>
<line x1="430.60" y1="154.70" x2="430.60" y2="157.70" stroke="#555" stroke-width="1" />
<text x="430.90000000000003" y="171.1" font-size="11.5" fill="#151515" text-anchor="middle" font-weight="normal" >-20</text>
<line x1="470.70" y1="154.70" x2="470.70" y2="157.70" stroke="#555" stroke-width="1" />
<text x="470.6" y="171.1" font-size="11.5" fill="#151515" text-anchor="middle" font-weight="normal" >0</text>
<line x1="510.80" y1="154.70" x2="510.80" y2="157.70" stroke="#555" stroke-width="1" />
<rect x="503.29999999999995" y="159.7" width="17.5" height="13" fill="#fff"/>
<text x="510.3" y="171.1" font-size="11.5" fill="#151515" text-anchor="middle" font-weight="normal" >20</text>
<line x1="550.90" y1="154.70" x2="550.90" y2="157.70" stroke="#555" stroke-width="1" />
<text x="550.0" y="171.1" font-size="11.5" fill="#151515" text-anchor="middle" font-weight="normal" >40</text>
<line x1="591.00" y1="154.70" x2="591.00" y2="157.70" stroke="#555" stroke-width="1" />
<text x="589.7" y="171.1" font-size="11.5" fill="#151515" text-anchor="middle" font-weight="normal" >60</text>
<line x1="631.10" y1="154.70" x2="631.10" y2="157.70" stroke="#555" stroke-width="1" />
<text x="629.4000000000001" y="171.1" font-size="11.5" fill="#151515" text-anchor="middle" font-weight="normal" >80</text>
<line x1="671.20" y1="154.70" x2="671.20" y2="157.70" stroke="#555" stroke-width="1" />
<text x="669.1" y="171.1" font-size="11.5" fill="#151515" text-anchor="middle" font-weight="normal" >100</text>
<line x1="711.30" y1="154.70" x2="711.30" y2="157.70" stroke="#555" stroke-width="1" />
<text x="708.8000000000001" y="171.1" font-size="11.5" fill="#151515" text-anchor="middle" font-weight="normal" >120</text>
<line x1="751.40" y1="154.70" x2="751.40" y2="157.70" stroke="#555" stroke-width="1" />
<text x="748.5" y="171.1" font-size="11.5" fill="#151515" text-anchor="middle" font-weight="normal" >140</text>
<line x1="791.50" y1="154.70" x2="791.50" y2="157.70" stroke="#555" stroke-width="1" />
<text x="791.2" y="171.1" font-size="11.5" fill="#151515" text-anchor="middle" font-weight="normal" >160</text>
<text x="617.2" y="184.2" font-size="11.65" fill="#151515" text-anchor="middle" font-weight="normal" >Delay (ps)</text>
<text font-size="11.5" fill="#151515" text-anchor="middle" transform="translate(402.5,80) rotate(-90)">Voltage (V)</text>
<text x="467.2" y="49.7" font-size="11.5" fill="#151515" text-anchor="start">t<tspan font-size="7.82" dy="2.6">1</tspan></text>
<text x="557.9" y="46.3" font-size="11.5" fill="#151515" text-anchor="start">t<tspan font-size="7.82" dy="2.6">2</tspan></text>
<text x="637.2" y="55.8" font-size="11.5" fill="#151515" text-anchor="start">t<tspan font-size="7.82" dy="2.6">3</tspan></text>
<text x="721.6" y="43.9" font-size="11.5" fill="#151515" text-anchor="start">t<tspan font-size="7.82" dy="2.6">4</tspan></text>
<text x="463.6" y="122.7" font-size="11.5" fill="#151515" text-anchor="start">t<tspan font-size="7.82" dy="2.6">5</tspan></text>
<text x="528.6" y="120.8" font-size="11.5" fill="#151515" text-anchor="start">t<tspan font-size="7.82" dy="2.6">6</tspan></text>
<text x="585.2" y="141" font-size="11.5" fill="#151515" text-anchor="start">t<tspan font-size="7.82" dy="2.6">7</tspan></text>
<text x="710" y="133" font-size="11.5" fill="#151515" text-anchor="start">t<tspan font-size="7.82" dy="2.6">8</tspan></text>
<text x="384" y="204.5" font-size="11.5" fill="#111" text-anchor="start" font-weight="bold" >(d)</text>
<polyline points="429.60,328.50 435.30,328.10 442.16,323.10 449.02,327.80 455.88,331.30 462.74,327.40 469.60,328.00 476.46,327.80 483.32,325.70 490.18,330.00 497.04,332.40 503.90,327.00 510.76,316.00 517.62,291.00 524.48,267.20 531.34,254.40 538.20,251.80 545.06,254.20 551.92,258.60 558.78,255.50 565.64,252.30 572.50,250.50 579.36,249.90 586.22,253.10 593.08,254.20" stroke="#ff00ff" fill="none" stroke-width="1.4" />
<circle cx="435.30" cy="328.10" r="2.4" fill="#ff00ff"/>
<circle cx="442.16" cy="323.10" r="2.4" fill="#ff00ff"/>
<circle cx="449.02" cy="327.80" r="2.4" fill="#ff00ff"/>
<circle cx="455.88" cy="331.30" r="2.4" fill="#ff00ff"/>
<circle cx="462.74" cy="327.40" r="2.4" fill="#ff00ff"/>
<circle cx="469.60" cy="328.00" r="2.4" fill="#ff00ff"/>
<circle cx="476.46" cy="327.80" r="2.4" fill="#ff00ff"/>
<circle cx="483.32" cy="325.70" r="2.4" fill="#ff00ff"/>
<circle cx="490.18" cy="330.00" r="2.4" fill="#ff00ff"/>
<circle cx="497.04" cy="332.40" r="2.4" fill="#ff00ff"/>
<circle cx="503.90" cy="327.00" r="2.4" fill="#ff00ff"/>
<circle cx="510.76" cy="316.00" r="2.4" fill="#ff00ff"/>
<circle cx="517.62" cy="291.00" r="2.4" fill="#ff00ff"/>
<circle cx="524.48" cy="267.20" r="2.4" fill="#ff00ff"/>
<circle cx="531.34" cy="254.40" r="2.4" fill="#ff00ff"/>
<circle cx="538.20" cy="251.80" r="2.4" fill="#ff00ff"/>
<circle cx="545.06" cy="254.20" r="2.4" fill="#ff00ff"/>
<circle cx="551.92" cy="258.60" r="2.4" fill="#ff00ff"/>
<circle cx="558.78" cy="255.50" r="2.4" fill="#ff00ff"/>
<circle cx="565.64" cy="252.30" r="2.4" fill="#ff00ff"/>
<circle cx="572.50" cy="250.50" r="2.4" fill="#ff00ff"/>
<circle cx="579.36" cy="249.90" r="2.4" fill="#ff00ff"/>
<circle cx="586.22" cy="253.10" r="2.4" fill="#ff00ff"/>
<circle cx="593.08" cy="254.20" r="2.4" fill="#ff00ff"/>
<polyline points="429.60,322.50 435.30,323.60 442.16,323.90 449.02,321.20 455.88,325.30 462.74,325.50 469.60,322.30 476.46,299.00 483.32,268.00 490.18,242.10 497.04,233.30 503.90,230.70 510.76,229.60 517.62,227.50 524.48,220.60 531.34,229.60 538.20,238.20 545.06,244.00 551.92,245.60 558.78,247.50 565.64,248.10 572.50,255.50 579.36,253.60 586.22,261.10 593.08,265.10" stroke="#1010f0" fill="none" stroke-width="1.4" />
<polygon points="435.30,320.40 437.60,323.60 435.30,326.80 433.00,323.60" stroke="none" fill="#1010f0" stroke-width="1" />
<polygon points="442.16,320.70 444.46,323.90 442.16,327.10 439.86,323.90" stroke="none" fill="#1010f0" stroke-width="1" />
<polygon points="449.02,318.00 451.32,321.20 449.02,324.40 446.72,321.20" stroke="none" fill="#1010f0" stroke-width="1" />
<polygon points="455.88,322.10 458.18,325.30 455.88,328.50 453.58,325.30" stroke="none" fill="#1010f0" stroke-width="1" />
<polygon points="462.74,322.30 465.04,325.50 462.74,328.70 460.44,325.50" stroke="none" fill="#1010f0" stroke-width="1" />
<polygon points="469.60,319.10 471.90,322.30 469.60,325.50 467.30,322.30" stroke="none" fill="#1010f0" stroke-width="1" />
<polygon points="476.46,295.80 478.76,299.00 476.46,302.20 474.16,299.00" stroke="none" fill="#1010f0" stroke-width="1" />
<polygon points="483.32,264.80 485.62,268.00 483.32,271.20 481.02,268.00" stroke="none" fill="#1010f0" stroke-width="1" />
<polygon points="490.18,238.90 492.48,242.10 490.18,245.30 487.88,242.10" stroke="none" fill="#1010f0" stroke-width="1" />
<polygon points="497.04,230.10 499.34,233.30 497.04,236.50 494.74,233.30" stroke="none" fill="#1010f0" stroke-width="1" />
<polygon points="503.90,227.50 506.20,230.70 503.90,233.90 501.60,230.70" stroke="none" fill="#1010f0" stroke-width="1" />
<polygon points="510.76,226.40 513.06,229.60 510.76,232.80 508.46,229.60" stroke="none" fill="#1010f0" stroke-width="1" />
<polygon points="517.62,224.30 519.92,227.50 517.62,230.70 515.32,227.50" stroke="none" fill="#1010f0" stroke-width="1" />
<polygon points="524.48,217.40 526.78,220.60 524.48,223.80 522.18,220.60" stroke="none" fill="#1010f0" stroke-width="1" />
<polygon points="531.34,226.40 533.64,229.60 531.34,232.80 529.04,229.60" stroke="none" fill="#1010f0" stroke-width="1" />
<polygon points="538.20,235.00 540.50,238.20 538.20,241.40 535.90,238.20" stroke="none" fill="#1010f0" stroke-width="1" />
<polygon points="545.06,240.80 547.36,244.00 545.06,247.20 542.76,244.00" stroke="none" fill="#1010f0" stroke-width="1" />
<polygon points="551.92,242.40 554.22,245.60 551.92,248.80 549.62,245.60" stroke="none" fill="#1010f0" stroke-width="1" />
<polygon points="558.78,244.30 561.08,247.50 558.78,250.70 556.48,247.50" stroke="none" fill="#1010f0" stroke-width="1" />
<polygon points="565.64,244.90 567.94,248.10 565.64,251.30 563.34,248.10" stroke="none" fill="#1010f0" stroke-width="1" />
<polygon points="572.50,252.30 574.80,255.50 572.50,258.70 570.20,255.50" stroke="none" fill="#1010f0" stroke-width="1" />
<polygon points="579.36,250.40 581.66,253.60 579.36,256.80 577.06,253.60" stroke="none" fill="#1010f0" stroke-width="1" />
<polygon points="586.22,257.90 588.52,261.10 586.22,264.30 583.92,261.10" stroke="none" fill="#1010f0" stroke-width="1" />
<polygon points="593.08,261.90 595.38,265.10 593.08,268.30 590.78,265.10" stroke="none" fill="#1010f0" stroke-width="1" />
<line x1="456.70" y1="209.60" x2="456.70" y2="344.40" stroke="#ff6a6a" stroke-width="1.3" stroke-dasharray="3,2"/>
<line x1="473.40" y1="209.60" x2="473.40" y2="344.40" stroke="#3a3af0" stroke-width="0.9" stroke-dasharray="3,2"/>
<line x1="508.50" y1="209.60" x2="508.50" y2="344.40" stroke="#ff40ff" stroke-width="0.9" stroke-dasharray="3,2"/>
<rect x="429.6" y="209.6" width="163.89999999999998" height="134.79999999999998" fill="none" stroke="#555" stroke-width="1.1"/>
<line x1="425.60" y1="327.70" x2="429.60" y2="327.70" stroke="#555" stroke-width="1" />
<text x="422.5" y="331.59999999999997" font-size="11.5" fill="#151515" text-anchor="end" font-weight="normal" >0</text>
<line x1="425.60" y1="293.90" x2="429.60" y2="293.90" stroke="#555" stroke-width="1" />
<text x="422.5" y="297.79999999999995" font-size="11.5" fill="#151515" text-anchor="end" font-weight="normal" >2</text>
<line x1="425.60" y1="260.10" x2="429.60" y2="260.10" stroke="#555" stroke-width="1" />
<text x="422.5" y="264.0" font-size="11.5" fill="#151515" text-anchor="end" font-weight="normal" >4</text>
<line x1="425.60" y1="226.30" x2="429.60" y2="226.30" stroke="#555" stroke-width="1" />
<text x="422.5" y="230.20000000000002" font-size="11.5" fill="#151515" text-anchor="end" font-weight="normal" >6</text>
<line x1="429.60" y1="344.40" x2="429.60" y2="347.40" stroke="#555" stroke-width="1" />
<text x="429.59999999999997" y="360.4" font-size="11.5" fill="#151515" text-anchor="middle" font-weight="normal" >-2</text>
<line x1="456.90" y1="344.40" x2="456.90" y2="347.40" stroke="#555" stroke-width="1" />
<text x="456.9" y="360.4" font-size="11.5" fill="#151515" text-anchor="middle" font-weight="normal" >0</text>
<line x1="484.20" y1="344.40" x2="484.20" y2="347.40" stroke="#555" stroke-width="1" />
<text x="484.2" y="360.4" font-size="11.5" fill="#151515" text-anchor="middle" font-weight="normal" >2</text>
<line x1="511.50" y1="344.40" x2="511.50" y2="347.40" stroke="#555" stroke-width="1" />
<text x="511.5" y="360.4" font-size="11.5" fill="#151515" text-anchor="middle" font-weight="normal" >4</text>
<line x1="538.80" y1="344.40" x2="538.80" y2="347.40" stroke="#555" stroke-width="1" />
<text x="538.8" y="360.4" font-size="11.5" fill="#151515" text-anchor="middle" font-weight="normal" >6</text>
<line x1="566.10" y1="344.40" x2="566.10" y2="347.40" stroke="#555" stroke-width="1" />
<text x="566.1" y="360.4" font-size="11.5" fill="#151515" text-anchor="middle" font-weight="normal" >8</text>
<line x1="593.40" y1="344.40" x2="593.40" y2="347.40" stroke="#555" stroke-width="1" />
<text x="593.4" y="360.4" font-size="11.5" fill="#151515" text-anchor="middle" font-weight="normal" >10</text>
<text x="511.4" y="373.2" font-size="11.5" fill="#151515" text-anchor="middle" font-weight="normal" >Delay (ps)</text>
<text font-size="11.5" fill="#151515" text-anchor="middle" transform="translate(402,284) rotate(-90)">Voltage (V)</text>
<text x="439.2" y="267.5" font-size="11.5" fill="#151515" text-anchor="start">t<tspan font-size="7.82" dy="2.6">5</tspan></text>
<line x1="458.80" y1="264.50" x2="468.00" y2="264.50" stroke="#111" stroke-width="0.9" />
<polygon points="472.00,264.50 467.00,266.50 467.00,262.50" stroke="none" fill="#111" stroke-width="1" />
<text x="439" y="286" font-size="11.5" fill="#151515" text-anchor="start">t<tspan font-size="7.82" dy="2.6">1</tspan></text>
<line x1="458.00" y1="284.00" x2="501.00" y2="284.00" stroke="#777" stroke-width="1.0" />
<polygon points="506.30,284.00 500.30,286.25 500.30,281.75" stroke="none" fill="#111" stroke-width="1" />
<text x="606" y="205" font-size="11.5" fill="#111" text-anchor="start" font-weight="bold" >(e)</text>
<text x="608" y="277" font-size="11.5" fill="#111" text-anchor="start" font-weight="bold" >(f)</text>
<clipPath id="cp1"><rect x="653.2" y="209.6" width="138.5999999999999" height="64.79999999999998"/></clipPath>
<line x1="653.20" y1="267.38" x2="791.80" y2="267.38" stroke="#777" stroke-width="0.9" stroke-dasharray="3,2.5"/>
<line x1="722.50" y1="209.60" x2="722.50" y2="274.40" stroke="#888" stroke-width="0.9" stroke-dasharray="3,2.5"/>
<g clip-path="url(#cp1)">
<polyline points="653.20,209.60 654.30,221.58 655.40,221.95 656.50,228.33 657.60,227.04 658.70,236.90 659.80,225.67 660.90,245.06 662.00,232.57 663.10,240.80 664.20,233.04 665.30,243.78 666.40,240.48 667.50,253.79 668.60,242.86 669.70,250.31 670.80,246.68 671.90,252.43 673.00,247.45 674.10,258.16 675.20,242.39 676.30,252.67 677.40,246.83 678.50,258.57 679.60,242.35 680.70,255.30 681.80,248.42 682.90,256.15 684.00,253.93 685.10,261.63 686.20,250.62 687.30,264.16 688.40,250.19 689.50,265.91 690.60,251.10 691.70,264.74 692.80,258.63 693.90,259.65 695.00,254.32 696.10,268.43 697.20,252.78 698.30,268.88 699.40,253.94 700.50,267.78 701.60,251.55 702.70,263.22 703.80,255.96 704.90,267.02 706.00,260.74 707.10,267.03 708.20,254.81 709.30,267.73 710.40,258.09 711.50,269.77 712.60,256.77 713.70,272.34 714.80,252.12 715.90,265.23 717.00,258.94 718.10,265.87 719.20,259.69 720.30,270.40 721.40,256.26 722.50,272.06 723.60,256.26 724.70,269.46 725.80,255.09 726.90,273.90 728.00,258.70 729.10,267.42 730.20,258.59 731.30,267.53 732.40,261.53 733.50,269.22 734.60,259.92 735.70,271.74 736.80,257.74 737.90,266.54 739.00,256.53 740.10,273.67 741.20,261.47 742.30,269.61 743.40,262.00 744.50,269.50 745.60,254.44 746.70,276.43 747.80,256.60 748.90,274.07 750.00,258.46 751.10,275.10 752.20,263.15 753.30,273.46 754.40,259.10 755.50,276.10 756.60,255.06 757.70,276.33 758.80,259.92 759.90,271.29 761.00,257.76 762.10,276.37 763.20,264.13 764.30,270.34 765.40,263.75 766.50,270.64 767.60,259.91 768.70,268.09 769.80,255.42 770.90,270.97 772.00,257.22 773.10,271.53 774.20,256.74 775.30,270.07 776.40,265.67 777.50,275.66 778.60,262.07 779.70,276.63 780.80,259.53 781.90,275.88 783.00,263.19 784.10,272.32 785.20,265.03 786.30,269.89 787.40,259.09 788.50,269.11 789.60,265.78 790.70,270.81 791.80,258.78" stroke="#ff4dff" fill="none" stroke-width="0.75" />
<polyline points="653.20,209.60 653.66,213.87 654.13,217.18 654.59,219.88 655.05,222.16 655.52,224.14 655.98,225.89 656.44,227.45 656.91,228.86 657.37,230.15 657.84,231.33 658.30,232.43 658.76,233.45 659.23,234.41 659.69,235.31 660.15,236.15 660.62,236.95 661.08,237.71 661.54,238.43 662.01,239.12 662.47,239.78 662.93,240.41 663.40,241.01 663.86,241.60 664.33,242.15 664.79,242.69 665.25,243.21 665.72,243.71 666.18,244.20 666.64,244.67 667.11,245.12 667.57,245.57 668.03,246.00 668.50,246.41 668.96,246.82 669.42,247.21 669.89,247.60 670.35,247.97 670.81,248.34 671.28,248.69 671.74,249.04 672.21,249.38 672.67,249.71 673.13,250.04 673.60,250.36 674.06,250.67 674.52,250.97 674.99,251.27 675.45,251.57 675.91,251.85 676.38,252.14 676.84,252.41 677.30,252.68 677.77,252.95 678.23,253.21 678.69,253.47 679.16,253.72 679.62,253.97 680.09,254.22 680.55,254.46 681.01,254.69 681.48,254.93 681.94,255.16 682.40,255.38 682.87,255.60 683.33,255.82 683.79,256.04 684.26,256.25 684.72,256.46 685.18,256.67 685.65,256.87 686.11,257.08 686.58,257.27 687.04,257.47 687.50,257.66 687.97,257.85 688.43,258.04 688.89,258.23 689.36,258.41 689.82,258.59 690.28,258.77 690.75,258.95 691.21,259.13 691.67,259.30 692.14,259.47 692.60,259.64 693.06,259.81 693.53,259.97 693.99,260.14 694.46,260.30 694.92,260.46 695.38,260.62 695.85,260.77 696.31,260.93 696.77,261.08 697.24,261.23 697.70,261.38 698.16,261.53 698.63,261.68 699.09,261.82 699.55,261.97 700.02,262.11 700.48,262.25 700.95,262.39 701.41,262.53 701.87,262.67 702.34,262.81 702.80,262.94 703.26,263.08 703.73,263.21 704.19,263.34 704.65,263.47 705.12,263.60 705.58,263.73 706.04,263.85 706.51,263.98 706.97,264.11 707.43,264.23 707.90,264.35 708.36,264.47 708.83,264.59 709.29,264.71 709.75,264.83 710.22,264.95 710.68,265.07 711.14,265.18 711.61,265.30 712.07,265.41 712.53,265.53 713.00,265.64 713.46,265.75 713.92,265.86 714.39,265.97 714.85,266.08 715.32,266.19 715.78,266.30 716.24,266.40 716.71,266.51 717.17,266.62 717.63,266.72 718.10,266.82 718.56,266.93 719.02,267.03 719.49,267.13 719.95,267.23 720.41,267.33 720.88,267.43 721.34,267.53 721.80,267.63 722.27,267.73 722.73,267.82 723.20,267.92 723.66,268.02 724.12,268.11 724.59,268.21 725.05,268.30 725.51,268.39 725.98,268.49 726.44,268.58 726.90,268.67 727.37,268.76 727.83,268.85 728.29,268.94 728.76,269.03 729.22,269.12 729.68,269.21 730.15,269.30 730.61,269.38 731.08,269.47 731.54,269.56 732.00,269.64 732.47,269.73 732.93,269.81 733.39,269.90 733.86,269.98 734.32,270.06 734.78,270.15 735.25,270.23 735.71,270.31 736.17,270.39 736.64,270.47 737.10,270.55 737.57,270.63 738.03,270.71 738.49,270.79 738.96,270.87 739.42,270.95 739.88,271.03 740.35,271.11 740.81,271.18 741.27,271.26 741.74,271.34 742.20,271.41 742.66,271.49 743.13,271.56 743.59,271.64 744.05,271.71 744.52,271.79 744.98,271.86 745.45,271.93 745.91,272.01 746.37,272.08 746.84,272.15 747.30,272.22 747.76,272.30 748.23,272.37 748.69,272.44 749.15,272.51 749.62,272.58 750.08,272.65 750.54,272.72 751.01,272.79 751.47,272.86 751.94,272.93 752.40,272.99 752.86,273.06 753.33,273.13 753.79,273.20 754.25,273.26 754.72,273.33 755.18,273.40 755.64,273.46 756.11,273.53 756.57,273.60 757.03,273.66 757.50,273.73 757.96,273.79 758.42,273.86 758.89,273.92 759.35,273.98 759.82,274.05 760.28,274.11 760.74,274.17 761.21,274.24 761.67,274.30 762.13,274.36 762.60,274.42 763.06,274.49 763.52,274.55 763.99,274.61 764.45,274.67 764.91,274.73 765.38,274.79 765.84,274.85 766.31,274.91 766.77,274.97 767.23,275.03 767.70,275.09 768.16,275.15 768.62,275.21 769.09,275.27 769.55,275.32 770.01,275.38 770.48,275.44 770.94,275.50 771.40,275.56 771.87,275.61 772.33,275.67 772.79,275.73 773.26,275.78 773.72,275.84 774.19,275.90 774.65,275.95 775.11,276.01 775.58,276.06 776.04,276.12 776.50,276.17 776.97,276.23 777.43,276.28 777.89,276.34 778.36,276.39 778.82,276.45 779.28,276.50 779.75,276.55 780.21,276.61 780.67,276.66 781.14,276.71 781.60,276.77 782.07,276.82 782.53,276.87 782.99,276.92 783.46,276.98 783.92,277.03 784.38,277.08 784.85,277.13 785.31,277.18 785.77,277.23 786.24,277.29 786.70,277.34 787.16,277.39 787.63,277.44 788.09,277.49 788.56,277.54 789.02,277.59 789.48,277.64 789.95,277.69 790.41,277.74 790.87,277.79 791.34,277.84 791.80,277.89" stroke="#3a3a3a" fill="none" stroke-width="0.95" />
</g>
<rect x="653.2" y="209.6" width="138.5999999999999" height="64.79999999999998" fill="none" stroke="#555" stroke-width="1.1"/>
<line x1="649.20" y1="209.60" x2="653.20" y2="209.60" stroke="#555" stroke-width="1" />
<text x="647.5" y="213.7" font-size="11.8" fill="#151515" text-anchor="end" font-weight="normal" >0</text>
<line x1="649.20" y1="231.20" x2="653.20" y2="231.20" stroke="#555" stroke-width="1" />
<text x="647.5" y="235.29999999999998" font-size="11.8" fill="#151515" text-anchor="end" font-weight="normal" >-20</text>
<line x1="649.20" y1="252.80" x2="653.20" y2="252.80" stroke="#555" stroke-width="1" />
<text x="647.5" y="256.9" font-size="11.8" fill="#151515" text-anchor="end" font-weight="normal" >-40</text>
<line x1="649.20" y1="274.40" x2="653.20" y2="274.40" stroke="#555" stroke-width="1" />
<text x="647.5" y="278.5" font-size="11.8" fill="#151515" text-anchor="end" font-weight="normal" >-60</text>
<text font-size="11.8" fill="#151515" text-anchor="middle" transform="translate(625.3,238.6) rotate(-90)">PSD (dB)</text>
<clipPath id="cp2"><rect x="653.2" y="279.4" width="138.5999999999999" height="64.80000000000001"/></clipPath>
<line x1="653.20" y1="337.18" x2="791.80" y2="337.18" stroke="#777" stroke-width="0.9" stroke-dasharray="3,2.5"/>
<line x1="722.50" y1="279.40" x2="722.50" y2="344.20" stroke="#888" stroke-width="0.9" stroke-dasharray="3,2.5"/>
<g clip-path="url(#cp2)">
<polyline points="653.20,279.40 654.60,292.36 656.00,311.80 657.40,294.52 658.80,303.16 660.20,306.40 661.60,306.69 663.00,314.60 664.40,309.65 665.80,315.11 667.20,310.13 668.60,318.13 670.00,313.70 671.40,322.48 672.80,315.88 674.20,320.53 675.60,312.99 677.00,327.33 678.40,319.56 679.80,324.51 681.20,321.38 682.60,328.25 684.00,317.94 685.40,331.43 686.80,324.04 688.20,328.65 689.60,323.76 691.00,330.67 692.40,327.85 693.80,329.57 695.20,327.89 696.60,331.97 698.00,324.55 699.40,331.60 700.80,325.56 702.20,334.83 703.60,327.32 705.00,333.40 706.40,324.93 707.80,334.94 709.20,330.70 710.60,339.91 712.00,322.54 713.40,338.34 714.80,330.56 716.20,335.19 717.60,328.16 719.00,335.69 720.40,332.29 721.80,337.97 723.20,323.70 724.60,336.26 726.00,327.29 727.40,342.18 728.80,326.96 730.20,339.62 731.60,329.67 733.00,341.92 734.40,328.21 735.80,338.86 737.20,325.56 738.60,338.11 740.00,333.73 741.40,341.89 742.80,329.41 744.20,342.61 745.60,328.05 747.00,344.49 748.40,325.36 749.80,339.22 751.20,333.20 752.60,344.89 754.00,332.93 755.40,339.18 756.80,325.96 758.20,345.71 759.60,330.74 761.00,341.93 762.40,331.10 763.80,346.10 765.20,328.56 766.60,343.07 768.00,335.39 769.40,339.40 770.80,335.96 772.20,345.62 773.60,326.34 775.00,339.33 776.40,328.27 777.80,339.66 779.20,327.05 780.60,346.17 782.00,329.19 783.40,340.13 784.80,336.14 786.20,341.51 787.60,336.55 789.00,340.91 790.40,333.98 791.80,340.80" stroke="#4040ee" fill="none" stroke-width="0.75" />
<polyline points="653.20,279.40 653.66,283.67 654.13,286.98 654.59,289.68 655.05,291.96 655.52,293.94 655.98,295.69 656.44,297.25 656.91,298.66 657.37,299.95 657.84,301.13 658.30,302.23 658.76,303.25 659.23,304.21 659.69,305.11 660.15,305.95 660.62,306.75 661.08,307.51 661.54,308.23 662.01,308.92 662.47,309.58 662.93,310.21 663.40,310.81 663.86,311.40 664.33,311.95 664.79,312.49 665.25,313.01 665.72,313.51 666.18,314.00 666.64,314.47 667.11,314.92 667.57,315.37 668.03,315.80 668.50,316.21 668.96,316.62 669.42,317.01 669.89,317.40 670.35,317.77 670.81,318.14 671.28,318.49 671.74,318.84 672.21,319.18 672.67,319.51 673.13,319.84 673.60,320.16 674.06,320.47 674.52,320.77 674.99,321.07 675.45,321.37 675.91,321.65 676.38,321.94 676.84,322.21 677.30,322.48 677.77,322.75 678.23,323.01 678.69,323.27 679.16,323.52 679.62,323.77 680.09,324.02 680.55,324.26 681.01,324.49 681.48,324.73 681.94,324.96 682.40,325.18 682.87,325.40 683.33,325.62 683.79,325.84 684.26,326.05 684.72,326.26 685.18,326.47 685.65,326.67 686.11,326.88 686.58,327.07 687.04,327.27 687.50,327.46 687.97,327.65 688.43,327.84 688.89,328.03 689.36,328.21 689.82,328.39 690.28,328.57 690.75,328.75 691.21,328.93 691.67,329.10 692.14,329.27 692.60,329.44 693.06,329.61 693.53,329.77 693.99,329.94 694.46,330.10 694.92,330.26 695.38,330.42 695.85,330.57 696.31,330.73 696.77,330.88 697.24,331.03 697.70,331.18 698.16,331.33 698.63,331.48 699.09,331.62 699.55,331.77 700.02,331.91 700.48,332.05 700.95,332.19 701.41,332.33 701.87,332.47 702.34,332.61 702.80,332.74 703.26,332.88 703.73,333.01 704.19,333.14 704.65,333.27 705.12,333.40 705.58,333.53 706.04,333.65 706.51,333.78 706.97,333.91 707.43,334.03 707.90,334.15 708.36,334.27 708.83,334.39 709.29,334.51 709.75,334.63 710.22,334.75 710.68,334.87 711.14,334.98 711.61,335.10 712.07,335.21 712.53,335.33 713.00,335.44 713.46,335.55 713.92,335.66 714.39,335.77 714.85,335.88 715.32,335.99 715.78,336.10 716.24,336.20 716.71,336.31 717.17,336.42 717.63,336.52 718.10,336.62 718.56,336.73 719.02,336.83 719.49,336.93 719.95,337.03 720.41,337.13 720.88,337.23 721.34,337.33 721.80,337.43 722.27,337.53 722.73,337.62 723.20,337.72 723.66,337.82 724.12,337.91 724.59,338.01 725.05,338.10 725.51,338.19 725.98,338.29 726.44,338.38 726.90,338.47 727.37,338.56 727.83,338.65 728.29,338.74 728.76,338.83 729.22,338.92 729.68,339.01 730.15,339.10 730.61,339.18 731.08,339.27 731.54,339.36 732.00,339.44 732.47,339.53 732.93,339.61 733.39,339.70 733.86,339.78 734.32,339.86 734.78,339.95 735.25,340.03 735.71,340.11 736.17,340.19 736.64,340.27 737.10,340.35 737.57,340.43 738.03,340.51 738.49,340.59 738.96,340.67 739.42,340.75 739.88,340.83 740.35,340.91 740.81,340.98 741.27,341.06 741.74,341.14 742.20,341.21 742.66,341.29 743.13,341.36 743.59,341.44 744.05,341.51 744.52,341.59 744.98,341.66 745.45,341.73 745.91,341.81 746.37,341.88 746.84,341.95 747.30,342.02 747.76,342.10 748.23,342.17 748.69,342.24 749.15,342.31 749.62,342.38 750.08,342.45 750.54,342.52 751.01,342.59 751.47,342.66 751.94,342.73 752.40,342.79 752.86,342.86 753.33,342.93 753.79,343.00 754.25,343.06 754.72,343.13 755.18,343.20 755.64,343.26 756.11,343.33 756.57,343.40 757.03,343.46 757.50,343.53 757.96,343.59 758.42,343.66 758.89,343.72 759.35,343.78 759.82,343.85 760.28,343.91 760.74,343.97 761.21,344.04 761.67,344.10 762.13,344.16 762.60,344.22 763.06,344.29 763.52,344.35 763.99,344.41 764.45,344.47 764.91,344.53 765.38,344.59 765.84,344.65 766.31,344.71 766.77,344.77 767.23,344.83 767.70,344.89 768.16,344.95 768.62,345.01 769.09,345.07 769.55,345.12 770.01,345.18 770.48,345.24 770.94,345.30 771.40,345.36 771.87,345.41 772.33,345.47 772.79,345.53 773.26,345.58 773.72,345.64 774.19,345.70 774.65,345.75 775.11,345.81 775.58,345.86 776.04,345.92 776.50,345.97 776.97,346.03 777.43,346.08 777.89,346.14 778.36,346.19 778.82,346.25 779.28,346.30 779.75,346.35 780.21,346.41 780.67,346.46 781.14,346.51 781.60,346.57 782.07,346.62 782.53,346.67 782.99,346.72 783.46,346.78 783.92,346.83 784.38,346.88 784.85,346.93 785.31,346.98 785.77,347.03 786.24,347.09 786.70,347.14 787.16,347.19 787.63,347.24 788.09,347.29 788.56,347.34 789.02,347.39 789.48,347.44 789.95,347.49 790.41,347.54 790.87,347.59 791.34,347.64 791.80,347.69" stroke="#3a3a3a" fill="none" stroke-width="0.95" />
</g>
<rect x="653.2" y="279.4" width="138.5999999999999" height="64.80000000000001" fill="none" stroke="#555" stroke-width="1.1"/>
<line x1="649.20" y1="279.40" x2="653.20" y2="279.40" stroke="#555" stroke-width="1" />
<text x="647.5" y="283.5" font-size="11.8" fill="#151515" text-anchor="end" font-weight="normal" >0</text>
<line x1="649.20" y1="301.00" x2="653.20" y2="301.00" stroke="#555" stroke-width="1" />
<text x="647.5" y="305.1" font-size="11.8" fill="#151515" text-anchor="end" font-weight="normal" >-20</text>
<line x1="649.20" y1="322.60" x2="653.20" y2="322.60" stroke="#555" stroke-width="1" />
<text x="647.5" y="326.7" font-size="11.8" fill="#151515" text-anchor="end" font-weight="normal" >-40</text>
<line x1="649.20" y1="344.20" x2="653.20" y2="344.20" stroke="#555" stroke-width="1" />
<text x="647.5" y="348.3" font-size="11.8" fill="#151515" text-anchor="end" font-weight="normal" >-60</text>
<text font-size="11.8" fill="#151515" text-anchor="middle" transform="translate(625.3,308.4) rotate(-90)">PSD (dB)</text>
<line x1="653.20" y1="344.20" x2="653.20" y2="347.20" stroke="#555" stroke-width="1" />
<text x="653.2" y="360.4" font-size="11.8" fill="#151515" text-anchor="middle" font-weight="normal" >0</text>
<line x1="722.50" y1="344.20" x2="722.50" y2="347.20" stroke="#555" stroke-width="1" />
<text x="722.5" y="360.4" font-size="11.8" fill="#151515" text-anchor="middle" font-weight="normal" >0.5</text>
<line x1="791.80" y1="344.20" x2="791.80" y2="347.20" stroke="#555" stroke-width="1" />
<text x="791.8" y="360.4" font-size="11.8" fill="#151515" text-anchor="middle" font-weight="normal" >1</text>
<text x="726" y="372.5" font-size="11.8" fill="#151515" text-anchor="middle" font-weight="normal" >Frequency (THz)</text>
<text x="733.4" y="221.2" font-size="11.8" fill="#151515" text-anchor="start" font-weight="normal" >cutoff</text>
<text x="733.4" y="236.1" font-size="11.8" fill="#151515" text-anchor="start" font-weight="normal" >0.5 THz</text>
<text x="735" y="328.2" font-size="11.8" fill="#151515" text-anchor="start" font-weight="normal" >noise floor</text>
<text x="692.3" y="299.8" font-size="11.8" fill="#151515">Reflections (t<tspan font-size="8" dy="2.5">7</tspan><tspan dy="-2.5">, t</tspan><tspan font-size="8" dy="2.5">8</tspan><tspan dy="-2.5">)</tspan></text>
<line x1="691.00" y1="295.50" x2="662.40" y2="295.50" stroke="#111" stroke-width="0.9" />
<polygon points="657.60,295.50 663.60,293.25 663.60,297.75" stroke="none" fill="#111" stroke-width="1" />
</svg></body></html>
